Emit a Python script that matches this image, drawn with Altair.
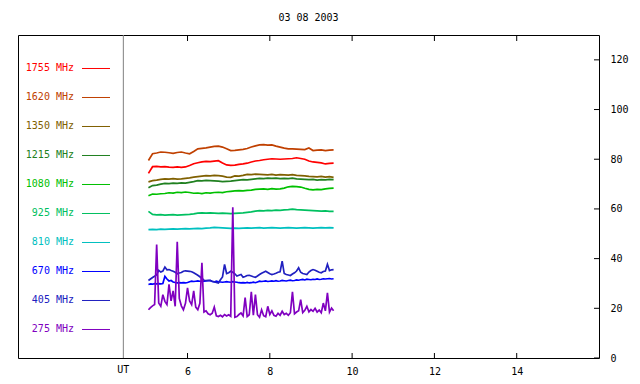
import altair as alt
import pandas as pd

title_text = "03 08 2003"
labels = ["1755 MHz", "1620 MHz", "1350 MHz", "1215 MHz", "1080 MHz",
          "925 MHz", "810 MHz", "670 MHz", "405 MHz", "275 MHz"]
colors = ["#ff0000", "#c04000", "#806000", "#208020", "#00c000",
          "#00c060", "#00c0c0", "#0000ff", "#2020c0", "#8000c0"]

x_ticks = [6, 8, 10, 12, 14]
y_ticks = [0, 20, 40, 60, 80, 100, 120]
ut_line = [4.44]

# sampling grids (hours UT)
t10 = [round(5.05 + 0.1 * i, 2) for i in range(46)]
t05 = [round(5.05 + 0.05 * i, 2) for i in range(91)]

s1755 = [74.3, 77.0, 77.1, 76.9, 77.0, 76.8, 76.7, 76.9, 76.7, 76.9, 77.5, 78.2, 78.6, 78.9, 79.1, 79.0,
         79.2, 79.4, 78.5, 77.7, 77.5, 77.6, 77.9, 78.1, 78.4, 78.9, 79.3, 79.5, 79.8, 80.0, 80.2, 80.1,
         80.0, 80.1, 80.2, 80.3, 80.6, 80.3, 80.0, 79.3, 78.9, 78.7, 78.5, 78.1, 78.3, 78.4]
s1620 = [79.5, 82.2, 82.5, 82.9, 82.8, 82.6, 82.4, 82.7, 82.9, 82.5, 82.2, 83.1, 84.2, 84.4, 84.6, 84.9,
         85.2, 85.3, 84.9, 84.2, 83.5, 83.6, 83.8, 84.0, 84.3, 84.9, 85.4, 85.8, 85.9, 85.7, 85.8, 85.3,
         84.9, 84.5, 84.2, 84.2, 84.1, 84.0, 83.9, 84.5, 83.5, 83.7, 83.8, 83.5, 83.7, 83.8]
s1350 = [70.9, 71.4, 71.6, 71.9, 72.1, 72.0, 72.2, 72.0, 72.1, 72.3, 72.5, 72.8, 73.0, 73.2, 73.4, 73.3,
         73.5, 73.4, 73.2, 72.8, 72.7, 73.3, 73.2, 73.5, 73.9, 73.8, 74.0, 73.9, 73.8, 73.7, 73.9, 73.6,
         73.8, 73.7, 73.6, 73.8, 73.5, 73.4, 73.3, 73.1, 73.0, 72.9, 73.1, 72.8, 73.0, 72.7]
s1215 = [68.5, 69.4, 69.6, 70.0, 70.3, 70.2, 70.4, 70.3, 70.5, 70.4, 70.7, 71.0, 71.4, 71.3, 71.5, 71.4,
         71.3, 71.2, 71.0, 71.1, 71.2, 71.4, 71.6, 71.8, 71.7, 71.9, 72.1, 72.3, 72.2, 72.4, 72.3, 72.4,
         72.2, 72.3, 72.2, 72.4, 72.1, 72.0, 71.9, 71.8, 71.9, 71.6, 71.8, 71.7, 71.9, 71.8]
s1080 = [65.3, 66.0, 65.9, 66.1, 66.2, 66.5, 66.4, 66.7, 66.6, 66.8, 66.6, 66.3, 66.4, 66.2, 66.5, 66.4,
         66.6, 66.7, 66.6, 66.9, 67.1, 67.3, 67.4, 67.3, 67.5, 67.6, 67.9, 68.0, 68.1, 67.9, 68.2, 68.0,
         68.1, 68.4, 68.9, 69.1, 69.0, 68.8, 68.3, 67.9, 67.7, 67.9, 67.8, 68.1, 68.3, 68.4]
s925 = [59.0, 57.8, 57.6, 57.7, 57.5, 57.6, 57.7, 57.5, 57.6, 57.7, 57.8, 58.0, 58.3, 58.4, 58.3, 58.4,
        58.3, 58.2, 58.3, 58.2, 58.1, 58.2, 58.3, 58.4, 58.6, 58.8, 59.1, 59.3, 59.2, 59.4, 59.3, 59.5,
        59.4, 59.6, 59.7, 59.9, 59.7, 59.6, 59.5, 59.4, 59.3, 59.2, 59.1, 59.2, 59.0, 59.0]
s810 = [51.7, 51.8, 51.7, 51.9, 51.8, 51.9, 52.0, 51.9, 52.0, 52.1, 52.0, 52.1, 52.2, 52.1, 52.3, 52.4,
        52.6, 52.5, 52.4, 52.3, 52.2, 52.3, 52.2, 52.3, 52.4, 52.3, 52.4, 52.5, 52.3, 52.4, 52.5, 52.4,
        52.3, 52.4, 52.5, 52.4, 52.3, 52.4, 52.5, 52.4, 52.3, 52.4, 52.5, 52.4, 52.5, 52.4]

s670 = [29.6, 29.8, 29.7, 29.9, 29.8, 29.9, 29.8, 30.0, 32.9, 31.8, 31.0, 31.2, 30.6, 30.4, 30.2, 30.3,
        30.2, 30.3, 30.2, 30.4, 30.7, 30.9, 30.8, 30.9, 31.0, 30.9, 30.8, 30.9, 31.0, 31.1, 31.2, 30.8,
        30.6, 30.9, 30.7, 30.6, 30.5, 30.6, 30.7, 30.6, 30.5, 30.7, 30.6, 30.5, 30.3, 30.2, 30.3, 30.2,
        30.4, 30.2, 30.3, 30.5, 30.3, 30.6, 30.9, 30.8, 30.9, 31.0, 30.8, 30.9, 31.0, 30.9, 31.1, 30.9,
        31.0, 31.2, 31.1, 31.0, 31.2, 31.3, 31.1, 31.2, 31.4, 31.3, 31.5, 31.6, 31.4, 31.7, 31.6, 31.5,
        31.7, 31.6, 31.8, 31.6, 31.7, 31.9, 31.8, 31.9, 32.0, 31.8, 31.9]
s405 = [31.2, 31.8, 32.4, 32.9, 33.5, 35.3, 34.6, 35.0, 36.6, 35.5, 35.6, 35.2, 34.9, 34.5, 33.9, 34.2,
        34.4, 34.9, 35.1, 35.0, 34.9, 34.7, 34.3, 33.8, 33.3, 32.7, 32.0, 31.3, 31.2, 31.3, 31.2, 30.9,
        30.7, 30.4, 30.2, 31.5, 32.6, 37.7, 34.0, 34.3, 34.9, 34.5, 33.9, 33.0, 33.3, 33.6, 32.5, 32.8,
        33.2, 33.3, 33.0, 32.7, 32.5, 33.0, 33.6, 34.1, 34.5, 34.9, 34.4, 33.9, 33.6, 33.8, 34.1, 34.5,
        34.7, 39.0, 34.0, 33.6, 33.4, 33.2, 33.8, 34.3, 35.0, 36.3, 34.5, 34.0, 33.8, 33.6, 34.6, 35.2,
        35.6, 35.3, 34.9, 34.5, 34.3, 34.8, 35.0, 37.7, 35.2, 35.5, 35.6]
s275 = [19.4, 20.3, 21.0, 21.5, 45.7, 22.1, 20.8, 25.5, 22.8, 21.5, 29.6, 23.0, 27.0, 20.8, 46.8, 24.0,
        21.0, 19.4, 22.0, 28.2, 23.0, 21.5, 27.0, 20.5, 19.4, 22.0, 38.3, 18.5, 19.0, 17.8, 17.4, 18.0,
        20.5, 17.0, 16.7, 17.2, 16.6, 17.5, 16.9, 17.4, 16.8, 60.7, 16.4, 16.7, 17.5, 18.1, 16.9, 24.3,
        16.7, 17.4, 26.6, 17.2, 25.5, 17.4, 16.4, 19.4, 17.0, 16.6, 20.8, 17.5, 19.0, 17.2, 16.8, 18.0,
        17.2, 18.8, 17.5, 18.0, 17.2, 18.2, 26.6, 17.8, 18.5, 19.0, 23.5, 18.3, 19.2, 20.8, 18.6, 19.5,
        18.8, 20.0, 18.5, 19.3, 18.2, 22.1, 19.0, 26.2, 18.5, 20.1, 19.0]

series = [("1755 MHz", t10, s1755), ("1620 MHz", t10, s1620), ("1350 MHz", t10, s1350),
          ("1215 MHz", t10, s1215), ("1080 MHz", t10, s1080), ("925 MHz", t10, s925),
          ("810 MHz", t10, s810), ("670 MHz", t05, s670), ("405 MHz", t05, s405),
          ("275 MHz", t05, s275)]

rows = []
for name, ts, vs in series:
    for t, v in zip(ts, vs):
        rows.append({"band": name, "t": t, "v": v})
df = pd.DataFrame(rows)

legend_df = pd.DataFrame({"band": labels, "idx": list(range(len(labels)))})

W, H = 581, 323
FONT = "DejaVu Sans Mono"
XS = alt.Scale(domain=[1.88, 16], nice=False, zero=False)
YS = alt.Scale(domain=[0, 130], nice=False, zero=True)
CS = alt.Scale(domain=labels, range=colors)

lines = alt.Chart(df).mark_line(strokeWidth=1.7, interpolate="linear").encode(
    x=alt.X("t:Q", scale=XS, axis=alt.Axis(values=x_ticks, orient="bottom", domain=False, ticks=False,
                                           grid=False, labelPadding=8, title=None, labelFont=FONT,
                                           labelFontSize=10, labelColor="black")),
    y=alt.Y("v:Q", scale=YS, axis=alt.Axis(values=y_ticks, orient="right", domain=False, ticks=False,
                                           grid=False, labelPadding=11, title=None, labelFont=FONT,
                                           labelFontSize=10, labelColor="black")),
    color=alt.Color("band:N", scale=CS, legend=None),
    detail="band:N",
)

ut = alt.Chart(pd.DataFrame({"x": ut_line})).mark_rule(color="#808080", strokeWidth=1).encode(
    x=alt.X("x:Q", scale=XS), y=alt.value(0), y2=alt.value(H))
ut_text = alt.Chart(pd.DataFrame({"x": ut_line, "txt": ["UT"]})).mark_text(
    font=FONT, fontSize=10, color="black", baseline="middle").encode(
    x=alt.X("x:Q", scale=XS), y=alt.value(H + 12), text="txt:N")

xt = pd.DataFrame({"x": x_ticks})
bot_ticks = alt.Chart(xt).mark_rule(color="black").encode(
    x=alt.X("x:Q", scale=XS), y=alt.value(H), y2=alt.value(H - 5))
top_ticks = alt.Chart(xt).mark_rule(color="black").encode(
    x=alt.X("x:Q", scale=XS), y=alt.value(0), y2=alt.value(6))
yt = pd.DataFrame({"y": y_ticks})
right_ticks = alt.Chart(yt).mark_rule(color="black").encode(
    y=alt.Y("y:Q", scale=YS, axis=None), x=alt.value(W), x2=alt.value(W - 5))

# legend rows on their own index scale: 29 px apart, snapped to pixel centres
LY = alt.Scale(domain=[-1.15517, 9.98276], reverse=True, nice=False, zero=False)
leg_text = alt.Chart(legend_df).mark_text(font=FONT, fontSize=10, align="right", baseline="middle").encode(
    x=alt.value(56), y=alt.Y("idx:Q", scale=LY, axis=None),
    text="band:N", color=alt.Color("band:N", scale=CS, legend=None))
leg_line = alt.Chart(legend_df).mark_rule(strokeWidth=1).encode(
    x=alt.value(64), x2=alt.value(92), y=alt.Y("idx:Q", scale=LY, axis=None),
    color=alt.Color("band:N", scale=CS, legend=None))

chart = alt.layer(
    ut, bot_ticks, top_ticks, right_ticks, lines, ut_text, leg_line, leg_text
).resolve_scale(y="independent").properties(
    width=W, height=H,
    title=alt.TitleParams(title_text, font=FONT, fontSize=10, fontWeight="normal", color="black",
                          anchor="middle", offset=12),
    autosize=alt.AutoSizeParams(type="none"),
    padding={"left": 10, "top": 27, "right": 32, "bottom": 18},
).configure(background="white").configure_view(stroke="black", strokeWidth=1)

chart.save("out.html", embed_options={"renderer": "svg", "actions": False})
